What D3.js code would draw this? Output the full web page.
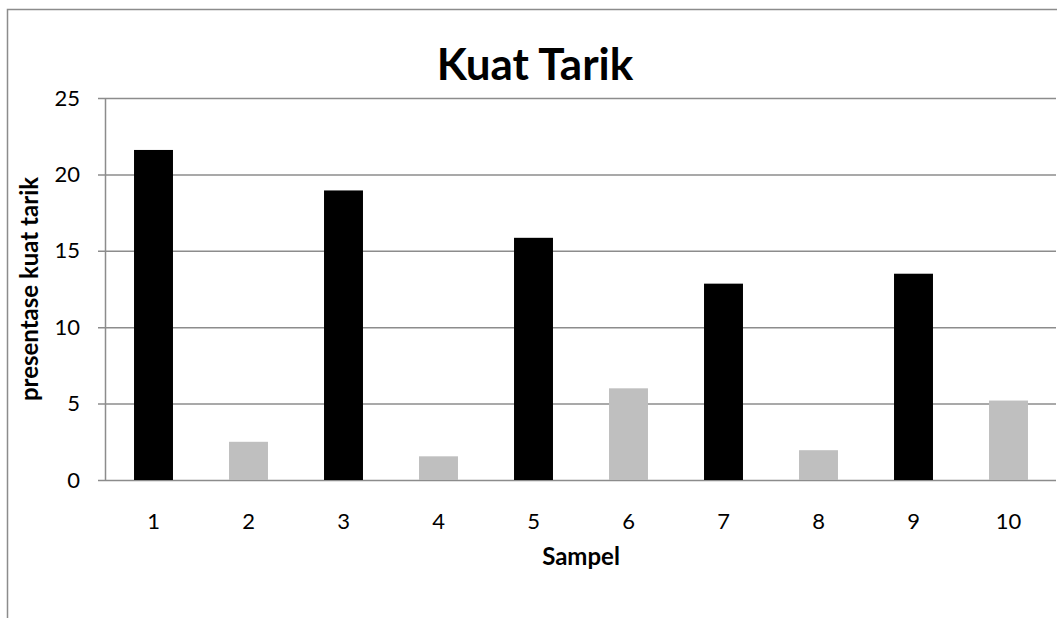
<!DOCTYPE html>
<html>
<head>
<meta charset="utf-8">
<script src="https://cdn.jsdelivr.net/npm/d3@7"></script>
<style>
  html, body { margin: 0; padding: 0; background: #fff; }
  svg { display: block; }
  svg text { font-family: Lato, "Open Sans", sans-serif; }
</style>
</head>
<body>
<svg id="chart" width="1057" height="618"></svg>
<script>
// Kuat tarik per sampel
const categories = ["1", "2", "3", "4", "5", "6", "7", "8", "9", "10"];
const values = [21.6, 2.5, 18.95, 1.55, 15.85, 6.0, 12.85, 1.95, 13.5, 5.2];
const barColors = ["#000000", "#bfbfbf"];
const yTicks = [0, 5, 10, 15, 20, 25];

const svg = d3.select("#chart");
const W = 1057, H = 618;
const plot = { left: 106, right: 1056, top: 98, bottom: 480 };
const FONT = "Lato, 'Open Sans', sans-serif";

svg.append("rect").attr("width", W).attr("height", H).attr("fill", "#fff");

// outer chart frame
svg.append("rect")
  .attr("x", 7.5).attr("y", 9.5)
  .attr("width", W + 20).attr("height", H + 20)
  .attr("fill", "none").attr("stroke", "#8c8c8c").attr("stroke-width", 1.5);

const x = d3.scaleBand().domain(categories)
  .range([plot.left, plot.right]).paddingInner(0.59).paddingOuter(0.295);
const y = d3.scaleLinear().domain([0, 25]).range([plot.bottom, plot.top]);

// gridlines + y ticks
const yAxis = d3.axisLeft(y).tickValues(yTicks).tickSize(-(plot.right - plot.left))
  .tickPadding(26).tickFormat(d3.format("d"));
const gy = svg.append("g").attr("transform", `translate(${plot.left},0)`).call(yAxis)
  .attr("font-family", FONT).attr("font-size", 22);
gy.select(".domain").remove();
gy.selectAll(".tick line").attr("stroke", "#8c8c8c").attr("stroke-width", 1.5).attr("x1", -8);
gy.selectAll(".tick text").attr("fill", "#000");

// bars
svg.append("g").selectAll("rect").data(values).join("rect")
  .attr("x", (d, i) => x(categories[i]))
  .attr("y", d => y(d))
  .attr("width", x.bandwidth())
  .attr("height", d => y(0) - y(d))
  .attr("fill", (d, i) => barColors[i % 2]);

// y axis line
svg.append("line")
  .attr("x1", plot.left - 0.5).attr("x2", plot.left - 0.5)
  .attr("y1", plot.top).attr("y2", plot.bottom)
  .attr("stroke", "#8c8c8c").attr("stroke-width", 1.5);

// x axis labels
const xAxis = d3.axisBottom(x).tickSize(0).tickPadding(33);
const gx = svg.append("g").attr("transform", `translate(0,${plot.bottom})`).call(xAxis)
  .attr("font-family", FONT).attr("font-size", 22);
gx.select(".domain").remove();
gx.selectAll(".tick text").attr("fill", "#000");

// titles
svg.append("text").attr("x", 535).attr("y", 80).attr("text-anchor", "middle")
  .attr("font-size", 44).attr("font-weight", "bold").text("Kuat Tarik");
svg.append("text").attr("x", (plot.left + plot.right) / 2).attr("y", 565).attr("text-anchor", "middle")
  .attr("font-size", 24).attr("font-weight", "bold").text("Sampel");
svg.append("text")
  .attr("transform", `translate(38,${(plot.top + plot.bottom) / 2}) rotate(-90)`)
  .attr("text-anchor", "middle")
  .attr("font-size", 24).attr("font-weight", "bold").text("presentase kuat tarik");
</script>
</body>
</html>
